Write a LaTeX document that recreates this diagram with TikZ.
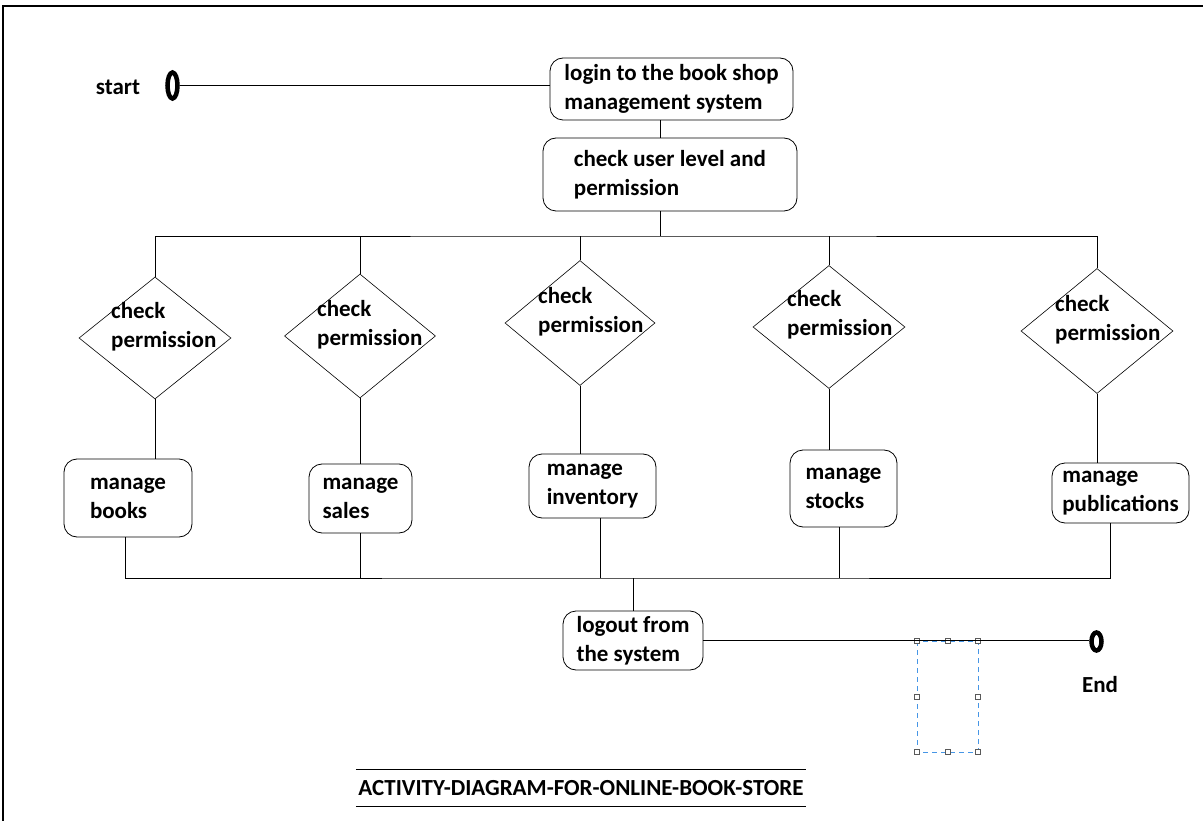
\documentclass[tikz,border=0pt]{standalone}
\usepackage{fontspec}
\setmainfont{Carlito}
\usetikzlibrary{shapes.geometric}

\definecolor{selblue}{RGB}{70,150,230}

\tikzset{
  action/.style={draw, rounded corners=13pt, align=left, inner sep=0pt, line width=0.8pt},
  decision/.style={draw, diamond, inner sep=0pt, line width=0.6pt},
  dtext/.style={anchor=west, align=left, inner sep=0pt},
  terminal/.style={draw, ellipse, line width=4.5pt, inner sep=0pt},
  flow/.style={line width=0.8pt},
  selframe/.style={draw=selblue, dash pattern=on 5pt off 4pt, line width=1pt},
  handle/.style={draw=gray!70!black, fill=white, line width=0.5pt, minimum size=5pt, inner sep=0pt},
}

\begin{document}
\begin{tikzpicture}[x=1pt, y=-1pt, font=\fontsize{23}{29}\selectfont\bfseries]
\useasboundingbox (0,0) rectangle (1203,821);
\draw[line width=2pt] (3,821) -- (3,6) -- (1203,6);

% start and end
\node[inner sep=0pt] (startlbl) at (118,87) {start};
\node[terminal, minimum width=10pt, minimum height=26pt] (start) at (172.5,85.5) {};
\node[terminal, minimum width=10pt, minimum height=18pt] (stop) at (1096.5,641.5) {};
\node[inner sep=0pt] (stoplbl) at (1100,685) {End};

% activities
\node[action, minimum width=243pt, minimum height=62pt] (login) at (671.5,89) {login to the book shop\\management system};
\node[action, minimum width=254pt, minimum height=73pt] (chk) at (670,174.5) {check user level and\\permission};

\node[decision, minimum width=152pt, minimum height=122pt] (d1) at (155,338) {};
\node[decision, minimum width=151pt, minimum height=124pt] (d2) at (360,336) {};
\node[decision, minimum width=150pt, minimum height=125pt] (d3) at (580,323) {};
\node[decision, minimum width=152pt, minimum height=123pt] (d4) at (829,327) {};
\node[decision, minimum width=152pt, minimum height=125pt] (d5) at (1097,331) {};
\node[dtext] (dt1) at ([shift={(-44,-11.5)}]d1.center) {check\\permission};
\node[dtext] (dt2) at ([shift={(-43,-11.5)}]d2.center) {check\\permission};
\node[dtext] (dt3) at ([shift={(-42,-11.5)}]d3.center) {check\\permission};
\node[dtext] (dt4) at ([shift={(-42,-12)}]d4.center) {check\\permission};
\node[dtext] (dt5) at ([shift={(-42,-11)}]d5.center) {check\\permission};

\node[action, minimum width=128pt, minimum height=78pt] (a1) at (128,498) {manage\\books};
\node[action, minimum width=103pt, minimum height=69pt] (a2) at (360.5,498.5) {manage\\sales};
\node[action, minimum width=127pt, minimum height=64pt] (a3) at (592.5,486) {manage\\inventory};
\node[action, minimum width=107pt, minimum height=77pt] (a4) at (843.5,488.5) {manage\\stocks};
\node[action, minimum width=137pt, minimum height=60pt] (a5) at (1120.5,493) {manage\\publications};

\node[action, minimum width=140pt, minimum height=59pt] (logout) at (633,640.5) {logout from\\the system};

% selection frame
\draw[selframe] (917,641) rectangle (978,752);
\foreach \x/\y/\n in {917/641/1, 947.5/641/2, 978/641/3, 917/696.5/4, 978/696.5/5, 917/752/6, 947.5/752/7, 978/752/8}
  \node[handle] (h\n) at (\x,\y) {};

% connectors
\coordinate (fork) at (660,236);
\coordinate (join) at (633,578);
\draw[flow] (start) -- (start -| login.west);
\draw[flow] (login.south -| fork) -- (fork |- chk.north);
\draw[flow] (chk.south -| fork) -- (fork);
\draw[flow] (d1.north) |- (fork) -| (d5.north);
\foreach \n in {2,3,4}
  \draw[flow] (d\n.north) -- (d\n.north |- fork);
\foreach \n in {1,...,5}
  \draw[flow] (d\n.south) -- (d\n.south |- a\n.north);
\draw[flow] ([xshift=-3]a1.south) |- (join) -| ([xshift=-10]a5.south);
\draw[flow] (a2.south) -- (a2.south |- join);
\draw[flow] ([xshift=8]a3.south) -- ([xshift=8]a3.south |- join);
\draw[flow] ([xshift=-4]a4.south) -- ([xshift=-4]a4.south |- join);
\draw[flow] (join) -- (logout.north);
\draw[flow] (logout.east) -- (logout.east -| stop.west);

% title
\node[minimum width=450pt, minimum height=36pt, inner sep=0pt] (title) at (581,788) {ACTIVITY-DIAGRAM-FOR-ONLINE-BOOK-STORE};
\draw[flow] (title.north west) -- (title.north east);
\draw[flow] (title.south west) -- (title.south east);
\end{tikzpicture}
\end{document}
